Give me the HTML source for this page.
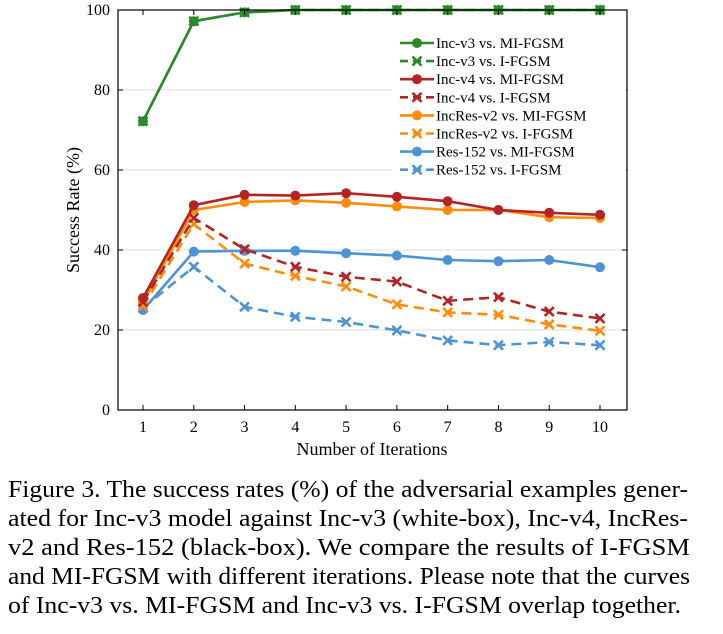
<!DOCTYPE html>
<html><head><meta charset="utf-8"><style>
html,body{margin:0;padding:0;background:#fff;}
svg{display:block;font-family:"Liberation Serif",serif;}
</style></head><body>
<svg id="chart" width="723" height="634" xmlns="http://www.w3.org/2000/svg">
<g id="grid"></g>
<g id="series"></g>
<g id="axes"></g>
<g id="legend"></g>
<text x="372" y="455" font-size="18" text-anchor="middle">Number of Iterations</text>
<text transform="translate(79,210) rotate(-90)" font-size="18" text-anchor="middle">Success Rate (%)</text>
<g font-size="24.5">
<text x="8" y="497" textLength="680" lengthAdjust="spacingAndGlyphs">Figure 3. The success rates (%) of the adversarial examples gener-</text>
<text x="8" y="526" textLength="680" lengthAdjust="spacingAndGlyphs">ated for Inc-v3 model against Inc-v3 (white-box), Inc-v4, IncRes-</text>
<text x="8" y="555" textLength="682" lengthAdjust="spacingAndGlyphs">v2 and Res-152 (black-box).  We compare the results of I-FGSM</text>
<text x="8" y="584" textLength="682" lengthAdjust="spacingAndGlyphs">and MI-FGSM with different iterations. Please note that the curves</text>
<text x="8" y="613" textLength="673" lengthAdjust="spacingAndGlyphs">of Inc-v3 vs. MI-FGSM and Inc-v3 vs. I-FGSM overlap together.</text>
</g>
</svg>
<script>
const iterations = [1,2,3,4,5,6,7,8,9,10];
const yTicks = [0,20,40,60,80,100];
const seriesNames = ["Inc-v3 vs. MI-FGSM","Inc-v3 vs. I-FGSM","Inc-v4 vs. MI-FGSM","Inc-v4 vs. I-FGSM","IncRes-v2 vs. MI-FGSM","IncRes-v2 vs. I-FGSM","Res-152 vs. MI-FGSM","Res-152 vs. I-FGSM"];
const incv3MI = [72.2,97.2,99.4,100,100,100,100,100,100,100];
const incv3I = [72.2,97.2,99.4,100,100,100,100,100,100,100];
const incv4MI = [28,51.2,53.8,53.6,54.2,53.3,52.2,50,49.3,48.8];
const incv4I = [27,48,40.2,35.8,33.3,32.1,27.3,28.2,24.6,22.9];
const incresMI = [27,50,52,52.4,51.8,50.9,50,50,48.2,48];
const incresI = [26,46.5,36.6,33.5,30.9,26.4,24.4,23.8,21.4,19.8];
const resMI = [25,39.6,39.8,39.8,39.2,38.6,37.5,37.2,37.5,35.7];
const resI = [25.5,35.8,25.8,23.3,22,19.9,17.4,16.2,17,16.2];

const NS="http://www.w3.org/2000/svg";
const L=118,R=627,T=10,B=410;
const xs=v=>143+(v-1)*(600-143)/9;
const ys=v=>B-(v/100)*(B-T);
function mk(tag,attrs,parent){const e=document.createElementNS(NS,tag);for(const k in attrs)e.setAttribute(k,attrs[k]);parent.appendChild(e);return e;}
const grid=document.getElementById('grid'),axes=document.getElementById('axes'),ser=document.getElementById('series'),leg=document.getElementById('legend');
yTicks.forEach(t=>{
  if(t>0&&t<100){const g=mk('line',{x1:L,x2:R,y1:ys(t),y2:ys(t),stroke:'#dcdcdc','stroke-width':1},grid);
  
  }
  mk('line',{x1:L,x2:L+5,y1:ys(t),y2:ys(t),stroke:'#000'},axes);
  mk('line',{x1:R,x2:R-5,y1:ys(t),y2:ys(t),stroke:'#000'},axes);
  const lb=mk('text',{x:110,y:ys(t)+5,'font-size':16,'text-anchor':'end'},axes);lb.textContent=t;
  
  
});
iterations.forEach(v=>{
  mk('line',{x1:xs(v),x2:xs(v),y1:B,y2:B-5,stroke:'#000'},axes);
  mk('line',{x1:xs(v),x2:xs(v),y1:T,y2:T+5,stroke:'#000'},axes);
  const lb=mk('text',{x:xs(v),y:432,'font-size':16,'text-anchor':'middle'},axes);lb.textContent=v;
  
  
});
const fr=mk('rect',{x:L,y:T,width:R-L,height:B-T,fill:'none',stroke:'#000','stroke-width':1.2},axes);



const G='#2a8a2a',Rd='#b52424',O='#ff8c0a',Bl='#4d93d6';
const defs=[[incv3MI,G,false],[incv3I,G,true],[incv4MI,Rd,false],[incv4I,Rd,true],[incresMI,O,false],[incresI,O,true],[resMI,Bl,false],[resI,Bl,true]];
function marker(x,y,c,cross,p){
  if(cross){mk('path',{d:`M${x-4.5},${y-4.5}L${x+4.5},${y+4.5}M${x-4.5},${y+4.5}L${x+4.5},${y-4.5}`,stroke:c,'stroke-width':2.6},p);}
  else mk('circle',{cx:x,cy:y,r:5,fill:c},p);
}
const order=[7,6,5,4,3,2,0,1];
order.forEach(i=>{
  const [d,c,dash]=defs[i];
  const g=mk('g',{},ser);
  
  
  mk('polyline',{points:d.map((v,k)=>xs(iterations[k])+','+ys(v)).join(' '),fill:'none',stroke:c,'stroke-width':2.6,'stroke-dasharray':dash?'10,6':'none','stroke-linejoin':'round'},g);
  d.forEach((v,k)=>marker(xs(iterations[k]),ys(v),c,dash,g));
});
const box=mk('rect',{x:392,y:31,width:234,height:152,fill:'#fff'},leg);


defs.forEach(([d,c,dash],i)=>{
  const y=43+i*18.1;
  const g=mk('g',{},leg);
  
  
  mk('line',{x1:400,x2:434,y1:y,y2:y,stroke:c,'stroke-width':2.6,'stroke-dasharray':dash?'8,5':'none'},g);
  marker(417,y,c,dash,g);
  const t=mk('text',{x:436,y:y+5,'font-size':15},g);t.textContent=seriesNames[i];
});
</script>
</body></html>
